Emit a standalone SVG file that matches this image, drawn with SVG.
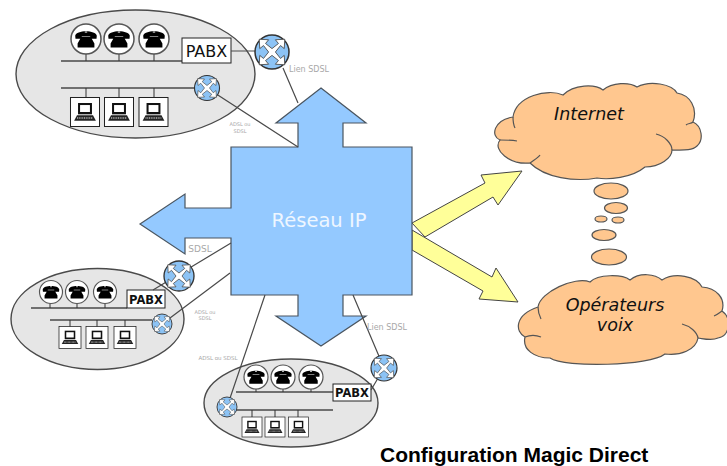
<svg xmlns="http://www.w3.org/2000/svg" xmlns:xlink="http://www.w3.org/1999/xlink" width="727" height="466" viewBox="0 0 727 466">
<style>
.site{fill:#e6e6e6;stroke:#4a4a4a;stroke-width:1.4}
.bus{stroke:#4a4a4a;stroke-width:1.6;fill:none}
.stem{stroke:#333;stroke-width:1;fill:none}
.link{stroke:#4a4a4a;stroke-width:1.2;fill:none}
.box{fill:#fff;stroke:#222;stroke-width:1}
.cloud{fill:#ffc78f;stroke:#555;stroke-width:1.2}
.crease{fill:none;stroke:#555;stroke-width:1.2}
.lbl{font-family:"DejaVu Sans",sans-serif;fill:#a8a8a8;text-anchor:middle}
.cl{font-family:"DejaVu Sans",sans-serif;font-style:italic;fill:#111;text-anchor:middle;font-size:17.5px}
.pb{font-family:"DejaVu Sans",sans-serif;fill:#111;text-anchor:middle}
.arrow{fill:#ffff99;stroke:#444;stroke-width:1}
</style>
<defs>
<g id="phone">
<circle r="1" fill="#fff" stroke="#555" stroke-width=".1"/>
<path d="M-.72-.22C-.66-.62.66-.62.72-.22L.7-.02.3-.04.28-.2-.28-.2-.3-.04-.7-.02ZM-.3-.16H.3L.56.3V.56H-.56V.3Z" fill="#000"/>
<path d="M-.08-.46H.08" stroke="#fff" stroke-width=".06"/>
</g>
<g id="pc">
<rect x="-1" y="-1" width="2" height="2" fill="#fff" stroke="#222" stroke-width=".07"/>
<rect x="-.48" y="-.62" width=".96" height=".78" fill="#111"/>
<rect x="-.34" y="-.48" width=".68" height=".48" fill="#fff"/>
<path d="M-.55.22H.55L.75.6H-.75Z" fill="#222"/>
<path d="M-.55.42H.55" stroke="#fff" stroke-width=".07" stroke-dasharray=".07 .05"/>
</g>
<g id="router">
<circle r="1" fill="#8cc3f5" stroke="#333" stroke-width=".09"/>
<path d="M-.75-.75-.2-.72-.38-.5 0-.2.38-.5.2-.72.75-.75.72-.2.5-.38.2 0 .5.38.72.2.75.75.2.72.38.5 0 .2-.38.5-.2.72-.75.75-.72.2-.5.38-.2 0-.5-.38-.72-.2Z" fill="#fff" stroke="#444" stroke-width=".05"/>
</g>
</defs>
<rect width="727" height="466" fill="#fff"/>

<g id="site-top">
<ellipse class="site" cx="135.500" cy="74" rx="119.500" ry="64"/>
<path class="bus" d="M61 61H182M61 88H195"/>
<path class="stem" d="M86 54V61M119 54V61M154 54V61M86 88V97M119 88V97M154 88V97"/>
<use xlink:href="#phone" href="#phone" transform="translate(86 39) scale(15)"/>
<use xlink:href="#phone" href="#phone" transform="translate(119 39) scale(15)"/>
<use xlink:href="#phone" href="#phone" transform="translate(154 39) scale(15)"/>
<use xlink:href="#pc" href="#pc" transform="translate(85 112) scale(14.500)"/>
<use xlink:href="#pc" href="#pc" transform="translate(119 112) scale(14.500)"/>
<use xlink:href="#pc" href="#pc" transform="translate(153.500 112) scale(14.500)"/>
<rect class="box" x="182" y="38" width="49" height="25"/>
<text class="pb" x="206.500" y="57" font-size="16">PABX</text>
</g>

<g id="site-left">
<ellipse class="site" cx="97.500" cy="319" rx="86.500" ry="50.500"/>
<path class="bus" d="M31 308H127M50 320H152"/>
<path class="stem" d="M50 303V308M77 303V308M105 303V308M70 320V327M97 320V327M125 320V327"/>
<use xlink:href="#phone" href="#phone" transform="translate(51 292) scale(11.500)"/>
<use xlink:href="#phone" href="#phone" transform="translate(77 292) scale(11.500)"/>
<use xlink:href="#phone" href="#phone" transform="translate(105 292) scale(11.500)"/>
<use xlink:href="#pc" href="#pc" transform="translate(70 337.500) scale(11)"/>
<use xlink:href="#pc" href="#pc" transform="translate(97 337.500) scale(11)"/>
<use xlink:href="#pc" href="#pc" transform="translate(125 337.500) scale(11)"/>
<rect class="box" x="127" y="290" width="38" height="18"/>
<text class="pb" x="146" y="304" font-size="11.500" font-weight="bold">PABX</text>
</g>

<g id="site-bottom">
<ellipse class="site" cx="291" cy="403" rx="87" ry="44"/>
<path class="bus" d="M236 392H333M227 410H333"/>
<path class="stem" d="M256 388V392M283 388V392M311 388V392M252 410V417M275 410V417M298 410V417"/>
<use xlink:href="#phone" href="#phone" transform="translate(256 377) scale(12)"/>
<use xlink:href="#phone" href="#phone" transform="translate(283 377) scale(12)"/>
<use xlink:href="#phone" href="#phone" transform="translate(311 377) scale(12)"/>
<use xlink:href="#pc" href="#pc" transform="translate(252 427) scale(10)"/>
<use xlink:href="#pc" href="#pc" transform="translate(275 427) scale(10)"/>
<use xlink:href="#pc" href="#pc" transform="translate(298.500 427) scale(10)"/>
<rect class="box" x="333" y="384" width="38" height="17"/>
<text class="pb" x="352" y="397" font-size="11.500" font-weight="bold">PABX</text>
</g>

<g id="fleche-internet">
<path class="arrow" d="M412 223 485 183 481 175 522 171 498 205 493 197 425 237Z"/>
</g>
<g id="fleche-voix">
<path class="arrow" d="M412 230 492 277 496 268 518 302 479 299 483 291 412 250Z"/>
</g>

<g id="reseau-ip">
<path d="M321 88 366 123H343V147H412V295H343V316H366L321 346 276 316H298V295H231V238H185V254L140 224 185 194V208H231V147H298V123H276Z" fill="#94c9ff" stroke="#4a5560" stroke-width="1.200" stroke-linejoin="miter"/>
<text x="319" y="227" font-family="DejaVu Sans, sans-serif" font-size="19.500" fill="#eef6ff" text-anchor="middle">Réseau IP</text>
</g>

<g id="cloud-internet">
<path class="cloud" d="M513 117C516 96 548 88 563 95C574 84 595 84 603 90C612 82 630 82 637 87C650 80 672 84 677 93C690 95 698 108 693 122C702 126 704 140 697 146C692 151 682 150 672 150C672 158 660 167 645 167C632 178 608 180 597 178C575 182 545 178 530 163C510 165 492 150 500 140C490 136 494 120 513 117Z"/>
<path class="crease" d="M513 117C513 122 513 124 515 128M500 140C506 140 512 140 517 141M693 122C691 124 688 123 686 125M672 150C672 144 665 136 656 134M530 163C534 160 538 158 540 155"/>
<text class="cl" x="589" y="120">Internet</text>
</g>

<g id="bulles">
<ellipse class="cloud" cx="611" cy="191" rx="17" ry="8"/>
<ellipse class="cloud" cx="616" cy="208" rx="11.500" ry="5.500"/>
<ellipse class="cloud" cx="601" cy="219" rx="6" ry="3"/>
<ellipse class="cloud" cx="618" cy="220" rx="6" ry="3"/>
<ellipse class="cloud" cx="604" cy="235" rx="12" ry="5.500"/>
<ellipse class="cloud" cx="609" cy="257" rx="17.500" ry="8"/>
</g>

<g id="cloud-voix">
<path class="cloud" d="M538 307C540 292 575 276 590 282C598 274 622 274 630 280C640 272 655 274 662 280C675 272 696 276 702 287C716 288 726 298 722 311C732 318 730 336 718 338C712 341 705 339 698 338C696 350 680 356 665 354C650 366 565 368 550 358C535 358 522 350 525 337C515 332 514 315 538 307Z"/>
<path class="crease" d="M538 307C538 312 539 315 541 319M525 337C530 335 536 335 541 337M722 311C719 313 717 315 714 316M698 338C697 332 690 326 682 324"/>
<text class="cl" x="615" y="311">Opérateurs</text>
<text class="cl" x="615" y="331">voix</text>
</g>

<g id="connectors">
<path class="link" d="M231 51H272M283 68 298 103M207 88 298 147"/>
<path class="link" d="M153 290 231 243M162 324 230 273"/>
<path class="link" d="M353 295 384 368M371 390 384 368M265 295 227 407"/>
</g>
<g id="routeurs">
<use xlink:href="#router" href="#router" transform="translate(272 52) scale(17)"/>
<use xlink:href="#router" href="#router" transform="translate(207 88) scale(12.500)"/>
<use xlink:href="#router" href="#router" transform="translate(179 276) scale(15)"/>
<use xlink:href="#router" href="#router" transform="translate(162 324) scale(10)"/>
<use xlink:href="#router" href="#router" transform="translate(384 368) scale(13)"/>
<use xlink:href="#router" href="#router" transform="translate(227 407) scale(10)"/>
</g>

<g id="labels">
<text class="lbl" x="309" y="72" font-size="8">Lien SDSL</text>
<text class="lbl" x="240" y="126" font-size="5">ADSL ou</text>
<text class="lbl" x="240" y="133" font-size="5">SDSL</text>
<text class="lbl" x="200" y="252" font-size="9">SDSL</text>
<text class="lbl" x="205" y="314" font-size="5">ADSL ou</text>
<text class="lbl" x="205" y="320" font-size="5">SDSL</text>
<text class="lbl" x="218" y="360" font-size="5.500">ADSL ou SDSL</text>
<text class="lbl" x="387" y="330" font-size="8">Lien SDSL</text>
</g>
<text id="caption" x="380" y="462" font-family="Liberation Sans, Arial, sans-serif" font-size="21" font-weight="bold" fill="#000">Configuration Magic Direct</text>
</svg>
